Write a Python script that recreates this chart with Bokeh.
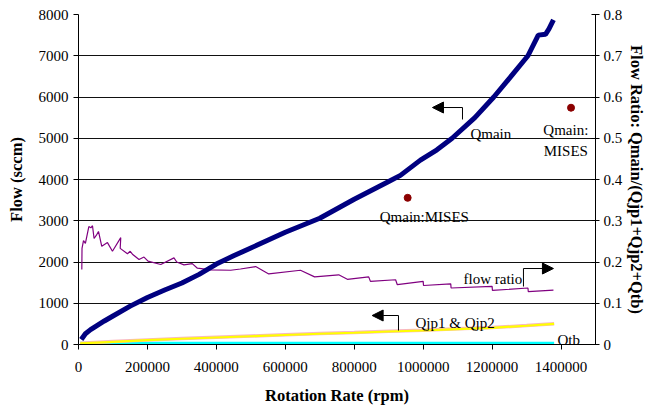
from bokeh.plotting import figure
from bokeh.models import (Range1d, LinearAxis, FixedTicker, NumeralTickFormatter,
                          Label, Arrow, NormalHead)
from bokeh.embed import file_html
from bokeh.resources import INLINE

# ---------------- data ----------------
qmain_rpm = [8000, 20000, 35000, 50000, 75000, 100000, 150000, 200000, 250000, 300000,
             350000, 400000, 450000, 500000, 600000, 700000, 800000, 900000,
             934000, 992000, 1040000, 1084000, 1150000, 1205000,
             1250000, 1304000, 1334000, 1355000, 1365000, 1378000]
qmain_flow = [120, 260, 360, 440, 570, 690, 930, 1140, 1320, 1490, 1700, 1950, 2150,
              2340, 2720, 3060, 3520, 3950, 4100, 4470, 4720, 5000, 5500,
              6000, 6450, 7000, 7500, 7520, 7650, 7870]

ratio_rpm = [9600, 10200, 14500, 20000, 30000, 36000, 40600, 45200, 52000, 58000,
             67500, 84000, 98500, 122600, 121000, 142000, 150000, 156500, 175600,
             190000, 201700, 238600, 277000, 285000, 306000, 330000, 345000,
             383500, 441500, 470000, 514000, 552000, 644000, 685000, 755000,
             780000, 842000, 847000, 920000, 925000, 1000000, 1001000, 1080000,
             1081000, 1200000, 1201000, 1304000, 1305000, 1378000]
ratio_val = [0.182, 0.233, 0.252, 0.245, 0.286, 0.283, 0.288, 0.257, 0.265, 0.274,
             0.238, 0.247, 0.226, 0.259, 0.233, 0.220, 0.226, 0.219, 0.206,
             0.212, 0.202, 0.194, 0.210, 0.200, 0.193, 0.196, 0.185,
             0.181, 0.180, 0.183, 0.189, 0.171, 0.180, 0.164, 0.169,
             0.158, 0.164, 0.153, 0.157, 0.145, 0.153, 0.143, 0.147,
             0.137, 0.141, 0.131, 0.137, 0.128, 0.132]

qjp_rpm = [5000, 100000, 200000, 300000, 400000, 500000, 600000, 700000, 800000,
           900000, 1000000, 1100000, 1200000, 1300000, 1380000]
qjp1_flow = [30, 70, 110, 145, 175, 205, 235, 265, 290, 320, 345, 380, 410, 460, 505]
qjp2_flow = [25, 65, 105, 140, 170, 200, 230, 260, 285, 315, 340, 375, 405, 455, 500]

qtb_rpm = [5000, 1380000]
qtb_flow = [15, 15]

mises_rpm = [955000, 1429000]
mises_flow = [3556, 5740]

x_ticks = [0, 200000, 400000, 600000, 800000, 1000000, 1200000, 1400000]
y_ticks = [0, 1000, 2000, 3000, 4000, 5000, 6000, 7000, 8000]
r_ticks = [0, 0.1, 0.2, 0.3, 0.4, 0.5, 0.6, 0.7, 0.8]

FONT = "Times New Roman"
AXFONT = "'Liberation Serif'"

p = figure(width=652, height=408, output_backend="svg", toolbar_location=None,
           x_range=Range1d(0, 1500000), y_range=Range1d(0, 8000),
           min_border_left=78, min_border_right=57, min_border_top=14,
           min_border_bottom=64)
p.outline_line_color = None
p.background_fill_color = "white"
p.border_fill_color = "white"
p.extra_y_ranges = {"ratio": Range1d(0, 0.8)}

# grid
p.xgrid.visible = False
p.ygrid.ticker = FixedTicker(ticks=y_ticks)
p.ygrid.grid_line_color = "#111111"
p.ygrid.grid_line_width = 1

def style_axis(ax, ticks, fmt):
    ax.ticker = FixedTicker(ticks=ticks)
    ax.formatter = NumeralTickFormatter(format=fmt)
    ax.minor_tick_line_color = None
    ax.axis_line_color = "black"
    ax.major_tick_line_color = "black"
    ax.major_label_text_font = AXFONT
    ax.major_label_text_font_size = "15px"
    ax.major_label_text_color = "black"
    ax.axis_label_text_font = AXFONT
    ax.axis_label_text_font_size = "16.5px"
    ax.axis_label_text_font_style = "bold"
    ax.axis_label_text_color = "black"

xa = p.xaxis[0]
style_axis(xa, x_ticks, "0")
xa.axis_label = "Rotation Rate (rpm)"
xa.major_tick_out = 5
xa.major_tick_in = 0
xa.major_label_standoff = 12
xa.axis_label_standoff = 11

ya = p.yaxis[0]
style_axis(ya, y_ticks, "0")
ya.axis_label = "Flow (sccm)"
ya.major_tick_out = 5
ya.major_tick_in = 0
ya.major_label_standoff = 5
ya.axis_label_standoff = 10

ra = LinearAxis(y_range_name="ratio")
style_axis(ra, r_ticks, "0.[0]")
ra.axis_label = "Flow Ratio: Qmain/(Qjp1+Qjp2+Qtb)"
ra.major_tick_out = 4
ra.major_tick_in = 4
ra.major_label_standoff = 4
ra.axis_label_standoff = 2
p.add_layout(ra, "right")

# series
p.line(qtb_rpm, qtb_flow, line_color="#00FFFF", line_width=4.5)
p.line(qjp_rpm, qjp1_flow, line_color="#F8B8C0", line_width=3.5)
p.line(qjp_rpm, qjp2_flow, line_color="#FFFF00", line_width=2.2)
p.line(ratio_rpm, ratio_val, y_range_name="ratio", line_color="#800080", line_width=1.2)
p.line(qmain_rpm, qmain_flow, line_color="#000080", line_width=5)
p.scatter(mises_rpm, mises_flow, marker="circle", size=7, fill_color="#8B0000",
          line_color="#8B0000")

# annotations
def lab(x, y, t, align="left"):
    p.add_layout(Label(x=x, y=y, text=t, text_font=FONT, text_font_size="15px",
                       text_color="black", text_align=align,
                       text_baseline="alphabetic"))

lab(874000, 3079, "Qmain:MISES")
lab(1137000, 5115, "Qmain")
lab(1414000, 5212, "Qmain:", "center")
lab(1414000, 4703, "MISES", "center")
lab(1117000, 1600, "flow ratio")
lab(977800, 533, "Qjp1 & Qjp2")
lab(1389700, 97, "Qtb")

def elbow(xc, yc, ytail, xtip, ytip):
    p.segment(x0=[xc], y0=[ytail], x1=[xc], y1=[yc], line_color="black", line_width=1)
    p.add_layout(Arrow(x_start=xc, y_start=yc, x_end=xtip, y_end=ytip,
                       line_color="black", line_width=1,
                       end=NormalHead(size=11, fill_color="black", line_color="black")))

elbow(1114100, 5745, 5455, 1027000, 5745)
elbow(1291000, 1842, 1406, 1378000, 1842)
elbow(928400, 703, 339, 852000, 703)

open("out.html", "w").write(file_html(p, INLINE))
